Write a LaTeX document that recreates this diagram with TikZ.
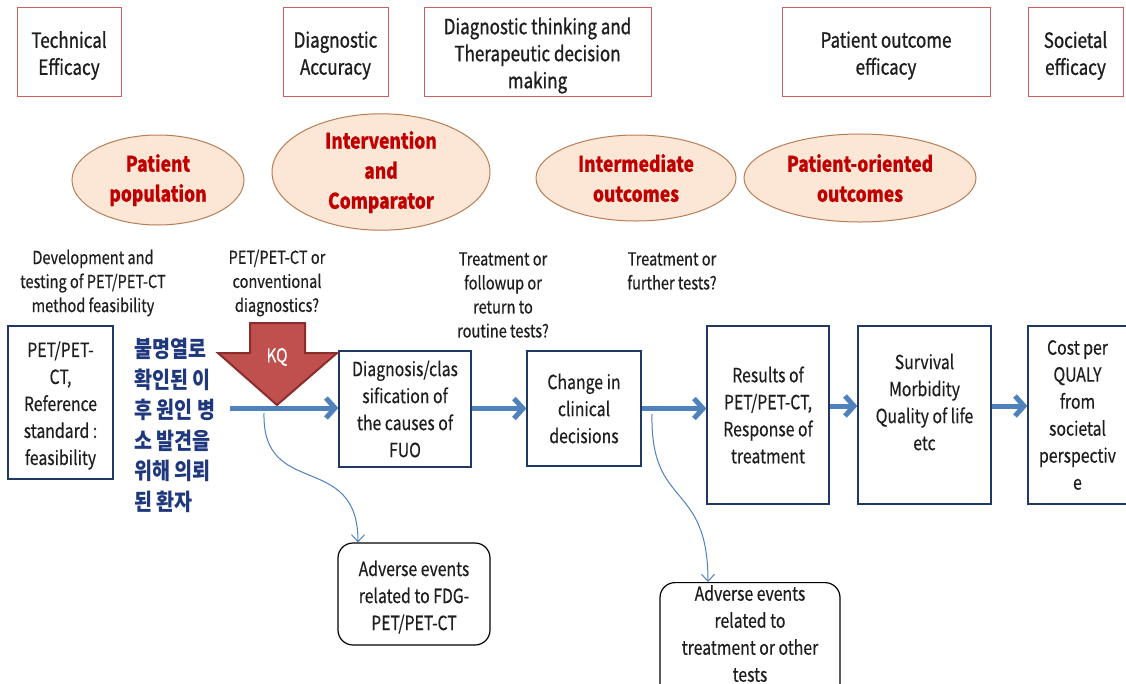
\documentclass[tikz,border=0pt]{standalone}
\usepackage{fontspec}
\setmainfont{Noto Sans CJK KR}[FakeStretch=0.81,FakeBold=0.35]
\newfontfamily\topfont{Noto Sans CJK KR}[FakeStretch=0.81,FakeBold=0.9]
\newfontfamily\krfont{Noto Sans CJK KR}[FakeStretch=0.85]
\usetikzlibrary{arrows.meta,shapes.geometric}
\definecolor{topred}{RGB}{205,95,95}
\definecolor{ellfill}{RGB}{252,230,214}
\definecolor{elldraw}{RGB}{185,125,85}
\definecolor{elltext}{RGB}{192,0,0}
\definecolor{navy}{RGB}{31,56,100}
\definecolor{krblue}{RGB}{30,55,125}
\definecolor{flowblue}{RGB}{79,129,189}
\definecolor{kqred}{RGB}{192,80,77}
\definecolor{kqdark}{RGB}{140,45,45}
\definecolor{txt}{RGB}{30,30,30}
\begin{document}
\begin{tikzpicture}[x=1pt,y=-1pt,
  topbox/.style={draw=topred, line width=1pt, inner sep=0pt},
  toptext/.style={align=center, text=txt, inner sep=0pt, yshift=-4pt,
    font=\topfont\fontsize{21}{27}\selectfont},
  ell/.style={ellipse, draw=elldraw, fill=ellfill, line width=1pt, inner sep=0pt, align=center,
    text=elltext, font=\bfseries\fontsize{21.5}{30}\selectfont},
  note/.style={align=center, text=txt, inner sep=0pt, font=\fontsize{18}{24}\selectfont},
  flowbox/.style={draw=navy, line width=1.3pt, inner sep=0pt},
  flowtext/.style={align=center, text=txt, inner sep=0pt, font=\fontsize{19.5}{27}\selectfont},
  aebox/.style={draw=black, line width=1.2pt, rounded corners=15pt, inner sep=0pt},
  bigarrow/.style={draw=flowblue, line width=5pt, -{Straight Barb[length=9pt,width=20pt]}},
  thinarrow/.style={draw=flowblue, line width=1pt, -{Straight Barb[length=7pt,width=13pt]}}
]
\clip (0,0) rectangle (1126,683);
\fill[white] (0,0) rectangle (1126,683);

% top row
\node[topbox, minimum width=104pt, minimum height=89pt] (tech) at (69,51.5) {};
\node[toptext] (techt) at (tech.center) {Technical\\Efficacy};
\node[topbox, minimum width=105pt, minimum height=89pt] (dacc) at (335.5,51.5) {};
\node[toptext] (dacct) at (dacc.center) {Diagnostic\\Accuracy};
\node[topbox, minimum width=227pt, minimum height=89pt] (dtt) at (537.5,51.5) {};
\node[toptext] (dttt) at (dtt.center) {Diagnostic thinking and\\Therapeutic decision\\making};
\node[topbox, minimum width=208pt, minimum height=89pt] (poe) at (886,51.5) {};
\node[toptext] (poet) at (poe.center) {Patient outcome\\efficacy};
\node[topbox, minimum width=95pt, minimum height=89pt] (soc) at (1075.5,51.5) {};
\node[toptext] (soct) at (soc.center) {Societal\\efficacy};

% ellipses
\node[ell, minimum width=172pt, minimum height=90pt] (pp) at (158,180) {Patient\\population};
\node[ell, minimum width=218pt, minimum height=100pt] (ic) at (381,172) {Intervention\\and\\Comparator};
\node[ell, minimum width=200pt, minimum height=86pt] (io) at (636,178) {Intermediate\\outcomes};
\node[ell, minimum width=232pt, minimum height=88pt] (po) at (860,178) {Patient-oriented\\outcomes};

% notes
\node[note] (n1) at (93,283) {Development and\\testing of PET/PET-CT\\method feasibility};
\node[note] (n2) at (277,283) {PET/PET-CT or\\conventional\\diagnostics?};
\node[note] (n3) at (503,295) {Treatment or\\followup or\\return to\\routine tests?};
\node[note] (n4) at (672,271) {Treatment or\\further tests?};

% flow boxes
\node[flowbox, minimum width=105pt, minimum height=153pt] (pet) at (60.5,402.5) {};
\node[flowtext, yshift=-3pt] (pett) at (pet.center) {PET/PET-\\CT,\\Reference\\standard :\\feasibility};
\node[anchor=north west, inner sep=0pt, align=left, text=krblue, font=\krfont\bfseries\fontsize{23}{30.5}\selectfont] (kr) at (134,338) {불명열로\\확인된 이\\후 원인 병\\소 발견을\\위해 의뢰\\된 환자};
\node[flowbox, minimum width=132pt, minimum height=116pt] (diag) at (405,409) {};
\node[flowtext, yshift=0pt] (diagt) at (diag.center) {Diagnosis/clas\\sification of\\the causes of\\FUO};
\node[flowbox, minimum width=114pt, minimum height=115pt] (chg) at (584,408.5) {};
\node[flowtext] (chgt) at (chg.center) {Change in\\clinical\\decisions};
\node[flowbox, minimum width=122pt, minimum height=178pt] (res) at (768,415) {};
\node[flowtext] (rest) at (res.center) {Results of\\PET/PET-CT,\\Response of\\treatment};
\node[flowbox, minimum width=133pt, minimum height=178pt] (surv) at (924.5,415) {};
\node[flowtext, yshift=13pt] (survt) at (surv.center) {Survival\\Morbidity\\Quality of life\\etc};
\node[flowbox, minimum width=99pt, minimum height=178pt] (cost) at (1077.5,415) {};
\node[flowtext] (costt) at (cost.center) {Cost per\\QUALY\\from\\societal\\perspectiv\\e};

% adverse event boxes
\node[aebox, minimum width=152pt, minimum height=102pt] (ae1) at (414,594) {};
\node[flowtext, yshift=-3pt] (ae1t) at (ae1.center) {Adverse events\\related to FDG-\\PET/PET-CT};
\node[aebox, minimum width=180pt, minimum height=120pt, anchor=north] (ae2) at (750,582) {};
\node[flowtext, anchor=north, yshift=-3pt] (ae2t) at (ae2.north) {Adverse events\\related to\\treatment or other\\tests};

% KQ arrow
\draw[fill=kqred, draw=kqdark, line width=2pt, line join=miter]
  (250,323) -- (305,323) -- (305,353) -- (337,353) -- (277,405) -- (218,353) -- (250,353) -- cycle;
\node[text=white, font=\fontsize{19}{22}\selectfont] (kq) at (277,357) {KQ};

% main arrows
\coordinate (a0) at (230,408);
\draw[bigarrow] (a0) -- (a0 -| diag.west);
\draw[bigarrow] (diag.east |- chg.east) -- (chg.west);
\draw[bigarrow] (chg.east) -- (chg.east -| res.west);
\draw[bigarrow] ([yshift=9pt]res.east) -- ([yshift=9pt]surv.west);
\draw[bigarrow] ([yshift=9pt]surv.east) -- ([yshift=9pt]cost.west);

% thin curved arrows
\coordinate (c1) at (264,413);
\coordinate (c2) at (652,414);
\draw[thinarrow] (c1) .. controls (262,500) and (358,450) .. ([xshift=-56pt]ae1.north);
\draw[thinarrow] (c2) .. controls (650,510) and (708,480) .. ([xshift=-42pt]ae2.north);
\end{tikzpicture}
\end{document}
